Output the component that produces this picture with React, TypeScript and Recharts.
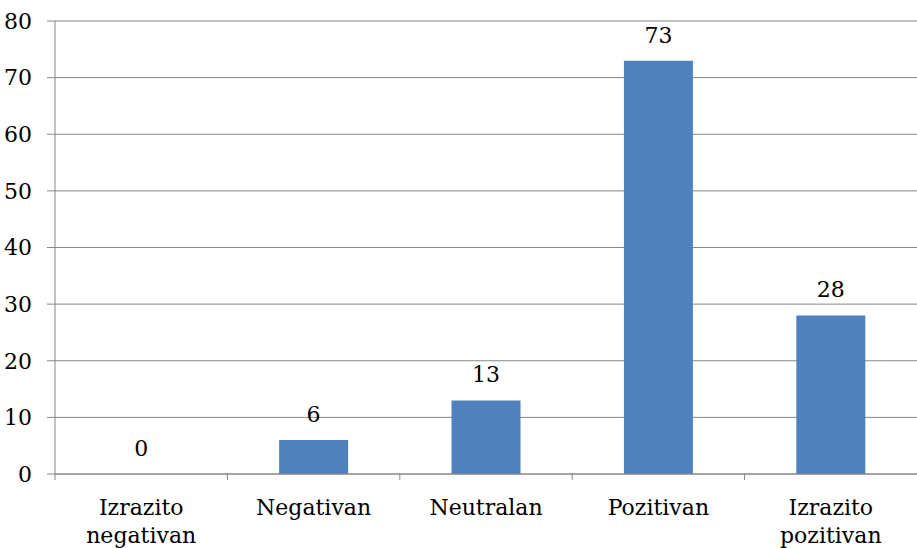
import { ComposedChart, Bar, Line, XAxis, YAxis, CartesianGrid, LabelList } from "recharts";

const categories = ["Izrazito negativan", "Negativan", "Neutralan", "Pozitivan", "Izrazito pozitivan"];
const counts = [0, 6, 13, 73, 28];
const yTicks = [0, 10, 20, 30, 40, 50, 60, 70, 80];

const data = categories.map((name, i) => ({ name, value: counts[i] }));

const W = 917;
const H = 548;
const Y_W = 55;
const HALF_BAND = (W - Y_W) / categories.length / 2;
const FONT = "DejaVu Serif, serif";
const FS = 22;
const GRID = "#868686";

function CategoryTick({ x, y, payload }: any) {
  const lines = String(payload.value).split(" ");
  return (
    <g>
      <line x1={x - HALF_BAND} x2={x - HALF_BAND} y1={y} y2={y + 6} stroke={GRID} />
      {lines.map((line, i) => (
        <text key={i} x={x} y={y + 41 + i * 28} textAnchor="middle" style={{ fontFamily: FONT, fontSize: FS, fill: "#000" }}>
          {line}
        </text>
      ))}
    </g>
  );
}

export default function App() {
  return (
    <div style={{ position: "absolute", left: 0, top: 0, background: "#fff" }}>
      <ComposedChart width={W} height={H} data={data} margin={{ top: 21, right: 0, left: 0, bottom: 0 }} barCategoryGap="30%">
        <CartesianGrid vertical={false} stroke={GRID} />
        <XAxis
          dataKey="name"
          height={74}
          tickSize={0}
          tickMargin={0}
          tickLine={false}
          axisLine={{ stroke: GRID }}
          tick={<CategoryTick />}
          interval={0}
        />
        <YAxis
          width={Y_W}
          domain={[0, 80]}
          ticks={yTicks}
          tickSize={8}
          tickMargin={15}
          axisLine={{ stroke: GRID }}
          tickLine={{ stroke: GRID }}
          tick={{ fontFamily: FONT, fontSize: FS, fill: "#000" }}
        />
        <Bar dataKey="value" fill="#4F81BD" isAnimationActive={false} />
        <Line dataKey="value" stroke="none" dot={false} activeDot={false} isAnimationActive={false}>
          <LabelList dataKey="value" position="top" offset={18} style={{ fontFamily: FONT, fontSize: FS, fill: "#000" }} />
        </Line>
      </ComposedChart>
    </div>
  );
}
